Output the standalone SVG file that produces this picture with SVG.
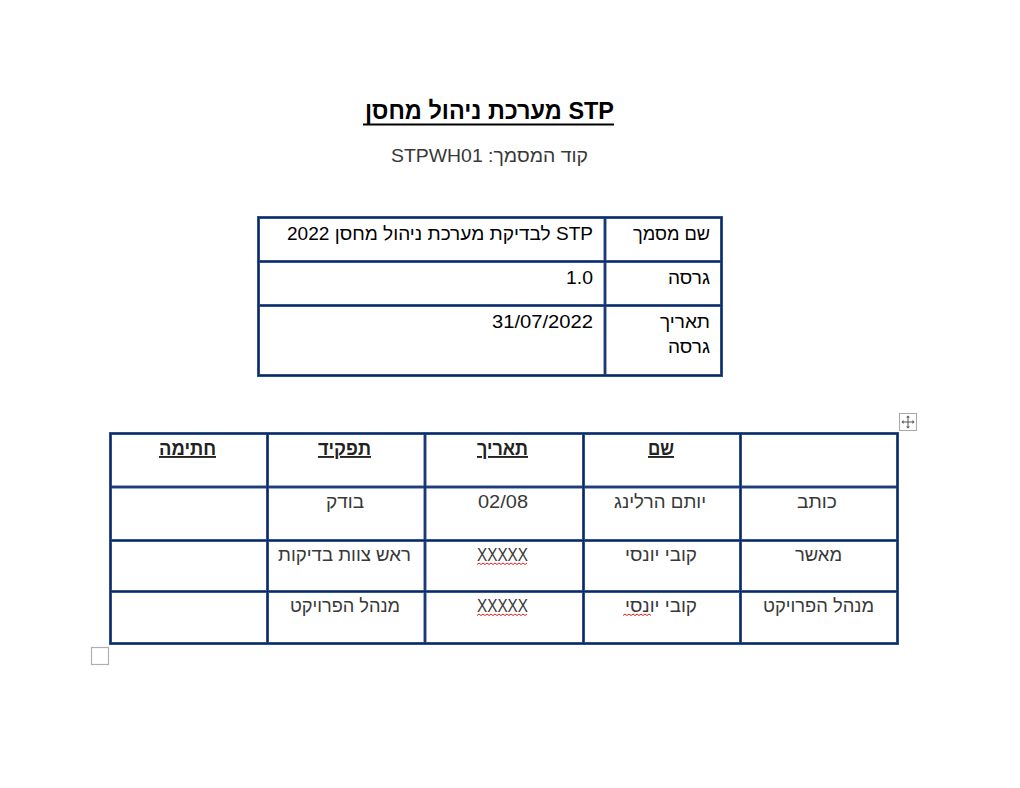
<svg xmlns="http://www.w3.org/2000/svg" width="1020" height="788" viewBox="0 0 1020 788">
<style>
.t{font-family:"Liberation Sans",Arial,"DejaVu Sans",sans-serif;font-size:19px;fill:#222}
.k{fill:#000}
.g{fill:#383838}
.b{font-weight:bold;text-decoration:underline}
.grid{fill:none;stroke:#2f5597;stroke-width:3}
.gin{fill:none;stroke:#13285a;stroke-width:1.2}
.sq{fill:none;stroke:#e02020;stroke-width:1}
</style>
<rect width="1020" height="788" fill="#fff"/>
<g id="title">
<text class="t k" x="489.5" y="119" text-anchor="middle" direction="rtl" textLength="249" lengthAdjust="spacingAndGlyphs" style="font-size:24px;font-weight:bold">STP מערכת ניהול מחסן</text>
<line x1="363" y1="124.5" x2="614" y2="124.5" stroke="#000" stroke-width="2"/>
<text class="t g" x="489.5" y="162" text-anchor="middle" direction="rtl" textLength="197" lengthAdjust="spacingAndGlyphs">קוד המסמך: STPWH01</text>
</g>
<g id="table1">
<rect class="grid" x="258.5" y="217.5" width="463" height="158"/>
<line class="grid" x1="605" y1="217" x2="605" y2="376"/>
<line class="grid" x1="258" y1="261.5" x2="722" y2="261.5"/>
<line class="grid" x1="258" y1="305.5" x2="722" y2="305.5"/>
<rect class="gin" x="258.5" y="217.5" width="463" height="158"/>
<line class="gin" x1="605" y1="217" x2="605" y2="376"/>
<line class="gin" x1="258" y1="261.5" x2="722" y2="261.5"/>
<line class="gin" x1="258" y1="305.5" x2="722" y2="305.5"/>
<text class="t k" x="671.5" y="240" text-anchor="middle" direction="rtl" textLength="77" lengthAdjust="spacingAndGlyphs">שם מסמך</text>
<text class="t k" x="440" y="240" text-anchor="middle" direction="rtl" textLength="306" lengthAdjust="spacingAndGlyphs">STP לבדיקת מערכת ניהול מחסן 2022</text>
<text class="t k" x="689" y="284" text-anchor="middle" direction="rtl" textLength="42" lengthAdjust="spacingAndGlyphs">גרסה</text>
<text class="t k" x="593" y="284" text-anchor="end" textLength="27" lengthAdjust="spacingAndGlyphs">1.0</text>
<text class="t k" x="685" y="328" text-anchor="middle" direction="rtl" textLength="50" lengthAdjust="spacingAndGlyphs">תאריך</text>
<text class="t k" x="689" y="353" text-anchor="middle" direction="rtl" textLength="42" lengthAdjust="spacingAndGlyphs">גרסה</text>
<text class="t k" x="593" y="328" text-anchor="end" textLength="101" lengthAdjust="spacingAndGlyphs">31/07/2022</text>
</g>
<g id="table2">
<rect class="grid" x="110.5" y="433.5" width="787" height="210"/>
<line class="grid" x1="267.5" y1="433" x2="267.5" y2="644"/>
<line class="grid" x1="425" y1="433" x2="425" y2="644"/>
<line class="grid" x1="583.5" y1="433" x2="583.5" y2="644"/>
<line class="grid" x1="740.5" y1="433" x2="740.5" y2="644"/>
<line class="grid" x1="110" y1="487" x2="898" y2="487"/>
<line class="grid" x1="110" y1="540.5" x2="898" y2="540.5"/>
<line class="grid" x1="110" y1="591.5" x2="898" y2="591.5"/>
<rect class="gin" x="110.5" y="433.5" width="787" height="210"/>
<line class="gin" x1="267.5" y1="433" x2="267.5" y2="644"/>
<line class="gin" x1="425" y1="433" x2="425" y2="644"/>
<line class="gin" x1="583.5" y1="433" x2="583.5" y2="644"/>
<line class="gin" x1="740.5" y1="433" x2="740.5" y2="644"/>
<line class="gin" x1="110" y1="487" x2="898" y2="487"/>
<line class="gin" x1="110" y1="540.5" x2="898" y2="540.5"/>
<line class="gin" x1="110" y1="591.5" x2="898" y2="591.5"/>
<text class="t b" x="187.5" y="455" text-anchor="middle" direction="rtl" textLength="57" lengthAdjust="spacingAndGlyphs">חתימה</text>
<text class="t b" x="344.5" y="455" text-anchor="middle" direction="rtl" textLength="53" lengthAdjust="spacingAndGlyphs">תפקיד</text>
<text class="t b" x="502.5" y="455" text-anchor="middle" direction="rtl" textLength="51" lengthAdjust="spacingAndGlyphs">תאריך</text>
<text class="t b" x="661" y="455" text-anchor="middle" direction="rtl" textLength="26" lengthAdjust="spacingAndGlyphs">שם</text>
<text class="t g" x="817" y="508" text-anchor="middle" direction="rtl" textLength="40" lengthAdjust="spacingAndGlyphs">כותב</text>
<text class="t g" x="660" y="508" text-anchor="middle" direction="rtl" textLength="92" lengthAdjust="spacingAndGlyphs">יותם הרלינג</text>
<text class="t g" x="503" y="508" text-anchor="middle" textLength="50" lengthAdjust="spacingAndGlyphs">02/08</text>
<text class="t g" x="345" y="508" text-anchor="middle" direction="rtl" textLength="38" lengthAdjust="spacingAndGlyphs">בודק</text>
<text class="t g" x="818.5" y="561" text-anchor="middle" direction="rtl" textLength="47" lengthAdjust="spacingAndGlyphs">מאשר</text>
<text class="t g" x="661" y="561" text-anchor="middle" direction="rtl" textLength="72" lengthAdjust="spacingAndGlyphs">קובי יונסי</text>
<text class="t g" x="502.5" y="561" text-anchor="middle" textLength="51" lengthAdjust="spacingAndGlyphs">XXXXX</text>
<text class="t g" x="344.5" y="561" text-anchor="middle" direction="rtl" textLength="133" lengthAdjust="spacingAndGlyphs">ראש צוות בדיקות</text>
<text class="t g" x="818.5" y="612" text-anchor="middle" direction="rtl" textLength="111" lengthAdjust="spacingAndGlyphs">מנהל הפרויקט</text>
<text class="t g" x="661" y="612" text-anchor="middle" direction="rtl" textLength="72" lengthAdjust="spacingAndGlyphs">קובי יונסי</text>
<text class="t g" x="502.5" y="612" text-anchor="middle" textLength="51" lengthAdjust="spacingAndGlyphs">XXXXX</text>
<text class="t g" x="345" y="612" text-anchor="middle" direction="rtl" textLength="110" lengthAdjust="spacingAndGlyphs">מנהל הפרויקט</text>
</g>
<g id="spellcheck">
<path class="sq" d="M477 564.5 l2 -1.5 l2 1.5 l2 -1.5 l2 1.5 l2 -1.5 l2 1.5 l2 -1.5 l2 1.5 l2 -1.5 l2 1.5 l2 -1.5 l2 1.5 l2 -1.5 l2 1.5 l2 -1.5 l2 1.5 l2 -1.5 l2 1.5 l2 -1.5 l2 1.5 l2 -1.5 l2 1.5 l2 -1.5 l2 1.5 l2 -1.5"/>
<path class="sq" d="M477 615.5 l2 -1.5 l2 1.5 l2 -1.5 l2 1.5 l2 -1.5 l2 1.5 l2 -1.5 l2 1.5 l2 -1.5 l2 1.5 l2 -1.5 l2 1.5 l2 -1.5 l2 1.5 l2 -1.5 l2 1.5 l2 -1.5 l2 1.5 l2 -1.5 l2 1.5 l2 -1.5 l2 1.5 l2 -1.5 l2 1.5 l2 -1.5"/>
<path class="sq" d="M623 615.5 l2 -1.5 l2 1.5 l2 -1.5 l2 1.5 l2 -1.5 l2 1.5 l2 -1.5 l2 1.5 l2 -1.5 l2 1.5 l2 -1.5 l2 1.5 l2 -1.5 l2 1.5"/>
</g>
<g id="handles">
<rect x="899.5" y="413.5" width="17" height="17" fill="#fff" stroke="#a8a8a8"/>
<g stroke="#555" stroke-width="1" fill="#555">
<line x1="903" y1="422" x2="913" y2="422"/>
<line x1="908" y1="417" x2="908" y2="427"/>
<path d="M908 415.5 l-2 2 h4z M908 428.5 l-2 -2 h4z M901.5 422 l2 -2 v4z M914.5 422 l-2 -2 v4z" stroke="none"/>
</g>
<rect x="91.5" y="647.5" width="17" height="17" fill="#fff" stroke="#b0b0b0" stroke-width="1.2"/>
</g>
</svg>
